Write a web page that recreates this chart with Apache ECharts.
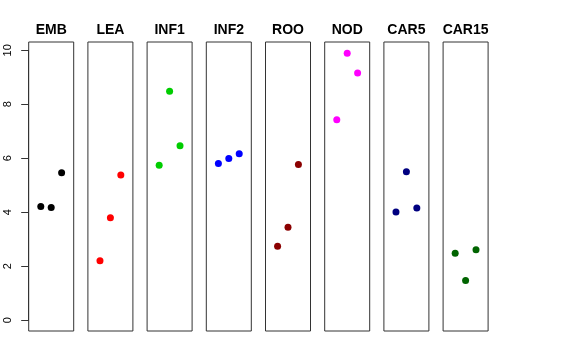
<!DOCTYPE html>
<html>
<head>
<meta charset="utf-8">
<script src="https://cdn.jsdelivr.net/npm/echarts@6/dist/echarts.min.js"></script>
<style>
html,body{margin:0;padding:0;background:#fff;}
#chart{width:576px;height:360px;}
</style>
</head>
<body>
<div id="chart"></div>
<script>
// Data
var categories = ['EMB', 'LEA', 'INF1', 'INF2', 'ROO', 'NOD', 'CAR5', 'CAR15'];
var valuesEMB   = [4.21, 4.17, 5.46];
var valuesLEA   = [2.20, 3.79, 5.38];
var valuesINF1  = [5.74, 8.47, 6.46];
var valuesINF2  = [5.80, 5.99, 6.16];
var valuesROO   = [2.74, 3.44, 5.76];
var valuesNOD   = [7.42, 9.88, 9.15];
var valuesCAR5  = [4.01, 5.50, 4.15];
var valuesCAR15 = [2.48, 1.47, 2.61];
var yTickLabels = ['0', '2', '4', '6', '8', '10'];

var seriesValues = [valuesEMB, valuesLEA, valuesINF1, valuesINF2, valuesROO, valuesNOD, valuesCAR5, valuesCAR15];
var colors = ['#000000', '#FF0000', '#00CD00', '#0000FF', '#8B0000', '#FF00FF', '#000080', '#006400'];

var chart = echarts.init(document.getElementById('chart'), null, {renderer: 'canvas'});

var grids = [], xAxes = [], yAxes = [], series = [], graphics = [];
var panelTop = 42, panelH = 289, panelW = 45;
var yMin = -0.396, yMax = 10.296;

for (var i = 0; i < categories.length; i++) {
  var left = 28.7 + 59.2 * i;
  grids.push({left: left, top: panelTop, width: panelW, height: panelH,
    show: true, borderColor: '#333', borderWidth: 1, backgroundColor: 'transparent'});
  xAxes.push({type: 'value', gridIndex: i, min: -0.16, max: 4.16, show: false});
  yAxes.push({type: 'value', gridIndex: i, min: yMin, max: yMax, show: false});
  series.push({
    type: 'scatter', xAxisIndex: i, yAxisIndex: i,
    symbol: 'circle', symbolSize: 7,
    itemStyle: {color: colors[i], opacity: 1},
    data: seriesValues[i].map(function (v, k) { return [k + 1, v]; }),
    silent: true
  });
  graphics.push({
    type: 'text', x: left + panelW / 2, y: 30,
    style: {text: categories[i], fill: '#000', font: 'bold 14px "Liberation Sans", Arial, sans-serif',
      textAlign: 'center', textVerticalAlign: 'middle'}
  });
}

// Axis grid for y labels (0..10)
grids.push({left: 28.7, top: 50.3, width: panelW, height: 270, show: false});
xAxes.push({type: 'value', gridIndex: 8, min: 0, max: 1, show: false});
yAxes.push({
  type: 'value', gridIndex: 8, min: 0, max: 10, interval: 2,
  axisLine: {show: true, lineStyle: {color: '#333', width: 1}},
  axisTick: {show: true, length: 7.5, lineStyle: {color: '#333', width: 1}},
  splitLine: {show: false},
  axisLabel: {
    show: true, rotate: 90, margin: 15, color: '#000',
    fontFamily: '"Liberation Sans", Arial, sans-serif', fontSize: 11,
    formatter: function (v) { var idx = Math.round(v / 2); return yTickLabels[idx]; }
  }
});

chart.setOption({
  animation: false,
  backgroundColor: '#fff',
  grid: grids,
  xAxis: xAxes,
  yAxis: yAxes,
  series: series,
  graphic: graphics
});
</script>
</body>
</html>
